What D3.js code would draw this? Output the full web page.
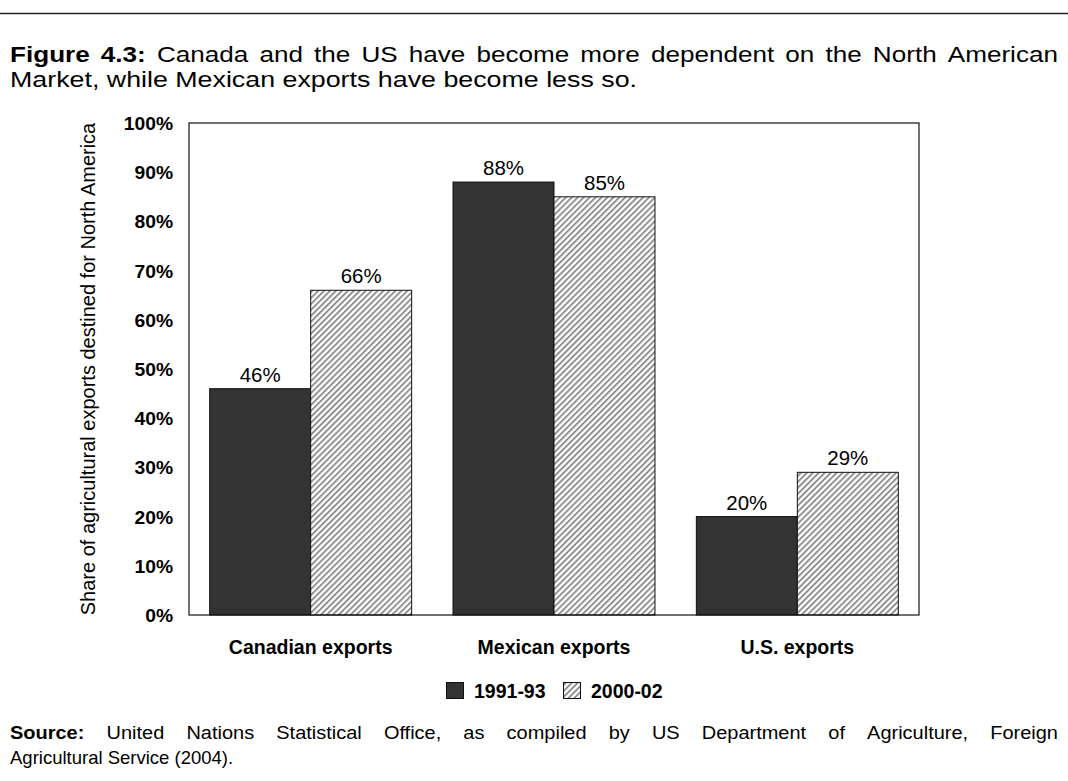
<!DOCTYPE html>
<html><head><meta charset="utf-8">
<script src="https://cdn.jsdelivr.net/npm/d3@7"></script>
<style>body{margin:0;background:#fff;} svg{display:block;font-family:"Liberation Sans",Arial,sans-serif;}</style>
</head><body>
<svg id="c" width="1068" height="781"></svg>
<script>
const categories = ["Canadian exports", "Mexican exports", "U.S. exports"];
const seriesNames = ["1991-93", "2000-02"];
const values1991 = [46, 88, 20];
const values2000 = [66, 85, 29];
const yTicks = [0,10,20,30,40,50,60,70,80,90,100];

const svg = d3.select("#c");
const defs = svg.append("defs");
const pat = defs.append("pattern").attr("id","hatch").attr("patternUnits","userSpaceOnUse")
  .attr("width",4.2).attr("height",4.2).attr("patternTransform","rotate(45)");
pat.append("rect").attr("width",4.2).attr("height",4.2).attr("fill","#fff");
pat.append("rect").attr("x",0).attr("width",1.9).attr("height",4.2).attr("fill","#8f8f8f");

// top rule
svg.append("line").attr("x1",0).attr("x2",1068).attr("y1",13.5).attr("y2",13.5).attr("stroke","#222").attr("stroke-width",1.3);

function justifyLine(parts, y, x0, x1, size, sx){
  const words=[];
  parts.forEach(p=>p.text.split(" ").filter(w=>w).forEach(w=>words.push({w,bold:p.bold})));
  const g=svg.append("g");
  const nodes=words.map(o=>g.append("text").attr("font-size",size).attr("font-weight",o.bold?"bold":"normal").attr("fill","#000").text(o.w));
  const widths=nodes.map(n=>n.node().getComputedTextLength()*sx);
  const total=d3.sum(widths);
  const gap=(x1-x0-total)/(words.length-1);
  let x=x0;
  nodes.forEach((n,i)=>{n.attr("transform",`translate(${x},${y}) scale(${sx},1)`); x+=widths[i]+gap;});
}
function fitLine(str, y, x0, width, size){
  svg.append("text").attr("x",x0).attr("y",y).attr("font-size",size).attr("fill","#000")
    .attr("textLength",width).attr("lengthAdjust","spacingAndGlyphs").text(str);
}
justifyLine([{text:"Figure 4.3:",bold:true},{text:"Canada and the US have become more dependent on the North American",bold:false}],62,10,1058,22.5,1.16);
fitLine("Market, while Mexican exports have become less so.",87,10,627,22.5);

const m={l:189,r:919,t:123,b:615};
const x0=d3.scaleBand().domain(categories).range([m.l,m.r]).paddingInner(0.17).paddingOuter(0.085);
const x1=d3.scaleBand().domain(seriesNames).range([0,x0.bandwidth()]);
const y=d3.scaleLinear().domain([0,100]).range([m.b,m.t]);

// y tick labels
svg.append("g").selectAll("text").data(yTicks).join("text")
  .attr("transform",d=>`translate(173,${y(d)+7}) scale(1.07,1)`).attr("text-anchor","end")
  .attr("font-size",18).attr("font-weight","bold").text(d=>d+"%");

svg.append("text").attr("transform",`translate(95,${(m.t+m.b)/2}) rotate(-90)`).attr("text-anchor","middle")
  .attr("font-size",20).text("Share of agricultural exports destined for North America");

const data=categories.map((c,i)=>({c,vals:[{s:seriesNames[0],v:values1991[i]},{s:seriesNames[1],v:values2000[i]}]}));
const gg=svg.append("g").selectAll("g").data(data).join("g").attr("transform",d=>`translate(${x0(d.c)},0)`);
gg.selectAll("rect").data(d=>d.vals).join("rect")
  .attr("x",d=>x1(d.s)).attr("width",x1.bandwidth()).attr("y",d=>y(d.v)).attr("height",d=>y(0)-y(d.v))
  .attr("fill",d=>d.s===seriesNames[0]?"#333333":"url(#hatch)").attr("stroke","#111").attr("stroke-width",1);
gg.selectAll("text").data(d=>d.vals).join("text")
  .attr("transform",d=>`translate(${x1(d.s)+x1.bandwidth()/2},${y(d.v)-7}) scale(1.05,1)`)
  .attr("text-anchor","middle").attr("font-size",19.5).text(d=>d.v+"%");

// plot frame
svg.append("rect").attr("x",m.l).attr("y",m.t).attr("width",m.r-m.l).attr("height",m.b-m.t).attr("fill","none").attr("stroke","#111").attr("stroke-width",1.2);

// category labels
svg.append("g").selectAll("text").data(categories).join("text")
  .attr("x",d=>x0(d)+x0.bandwidth()/2).attr("y",654).attr("text-anchor","middle").attr("font-size",19.5).attr("font-weight","bold").text(d=>d);

// legend
const leg=svg.append("g");
const lx=[446,563];
seriesNames.forEach((s,i)=>{
  leg.append("rect").attr("x",lx[i]+0.5).attr("y",682.5).attr("width",17).attr("height",16)
    .attr("fill",i===0?"#333333":"url(#hatch)").attr("stroke","#111").attr("stroke-width",1);
  leg.append("text").attr("x",lx[i]+28).attr("y",698).attr("font-size",19.5).attr("font-weight","bold").text(s);
});

justifyLine([{text:"Source:",bold:true},{text:"United Nations Statistical Office, as compiled by US Department of Agriculture, Foreign",bold:false}],739,10,1058,18.5,1.08);
svg.append("text").attr("x",10).attr("y",764).attr("font-size",18.5).attr("fill","#000").text("Agricultural Service (2004).");
</script>
</body></html>
